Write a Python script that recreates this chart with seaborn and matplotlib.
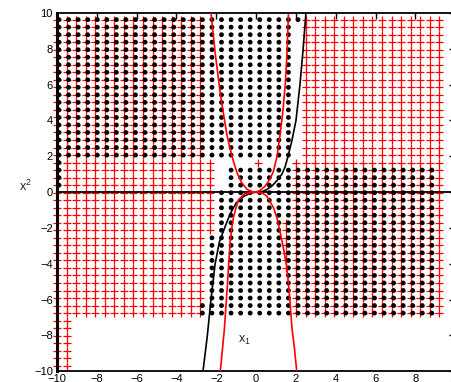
import numpy as np
import pandas as pd
import matplotlib
matplotlib.use("Agg")
import matplotlib.pyplot as plt
import seaborn as sns

# sample grid
dot_cols = [-9.90, -9.42, -8.94, -8.46, -7.98, -7.50, -7.02, -6.54, -6.06, -5.58,
            -5.10, -4.62, -4.14, -3.66, -3.18, -2.70, -2.22, -1.74, -1.26, -0.78,
            -0.30, 0.18, 0.66, 1.14, 1.62, 2.10, 2.58, 3.06, 3.54, 4.02,
            4.50, 4.98, 5.46, 5.94, 6.42, 6.90, 7.38, 7.86, 8.34, 8.82]
cross_cols = [-10.0, -9.52, -9.04, -8.56, -8.08, -7.60, -7.12, -6.64, -6.16, -5.68,
              -5.20, -4.72, -4.24, -3.76, -3.28, -2.80, -2.32, -1.84, -1.36, -0.88,
              -0.40, 0.08, 0.56, 1.04, 1.52, 2.00, 2.48, 2.96, 3.44, 3.92,
              4.40, 4.88, 5.36, 5.84, 6.32, 6.80, 7.28, 7.76, 8.24, 8.72, 9.20]
grid_rows = [9.63, 9.21, 8.79, 8.37, 7.95, 7.53, 7.11, 6.69, 6.27, 5.85,
             5.43, 5.01, 4.59, 4.17, 3.75, 3.33, 2.91, 2.49, 2.07, 1.65,
             1.23, 0.81, 0.39, -0.03, -0.45, -0.87, -1.29, -1.71, -2.13, -2.55,
             -2.97, -3.39, -3.81, -4.23, -4.65, -5.07, -5.49, -5.91, -6.33, -6.75,
             -7.17, -7.59, -8.01, -8.43, -8.85, -9.27, -9.69]

# blocks of grid cells holding a dot / a cross: (first col, last col, first row, last row)
dot_cells = [(0, 0, 0, 22), (1, 24, 0, 18), (25, 25, 0, 0), (18, 39, 20, 39),
             (17, 17, 23, 39), (16, 16, 29, 39), (15, 15, 38, 39)]
cross_cells = [(0, 15, 0, 39), (16, 16, 19, 28), (0, 1, 40, 46), (26, 40, 0, 39),
               (25, 25, 19, 39), (24, 24, 27, 33), (21, 21, 19, 19)]

# curves, points
black_x = [-2.67, -2.45, -2.27, -2.06, -1.85, -1.55, -1.3, -1.0, -0.64, -0.3, 0.0,
           0.3, 0.54, 0.8, 1.05, 1.29, 1.45, 1.6, 1.8, 2.0, 2.2, 2.36, 2.5]
black_y = [-10, -8.0, -6.0, -4.0, -2.8, -1.9, -1.2, -0.6, -0.25, -0.05, 0.0,
           0.03, 0.15, 0.35, 0.65, 1.0, 1.4, 2.0, 2.9, 4.0, 6.0, 8.0, 10]
red_up_x = [-2.27, -2.05, -1.8, -1.6, -1.47, -1.3, -1.14, -0.95, -0.72, -0.45, -0.14,
            0.15, 0.45, 0.7, 0.87, 1.05, 1.2, 1.35, 1.46, 1.55, 1.62]
red_up_y = [10, 7.7, 5.5, 4.1, 3.2, 2.4, 1.72, 1.05, 0.52, 0.15, 0.0,
            0.06, 0.33, 0.75, 1.17, 2.0, 3.2, 4.6, 6.0, 7.8, 9.9]
red_down_x = [-1.8, -1.6, -1.45, -1.38, -1.3, -1.22, -1.14, -0.9, -0.6, -0.13,
              0.3, 0.54, 0.87, 1.05, 1.2, 1.4, 1.54, 1.68, 1.79, 1.92, 2.04]
red_down_y = [-10, -7.7, -5.3, -4.0, -2.7, -2.0, -1.4, -0.45, -0.1, 0.0,
              -0.05, -0.22, -0.87, -1.45, -2.2, -3.3, -4.2, -5.8, -7.5, -8.7, -10]


def cells_to_frame(cols, cells):
    xs, ys = [], []
    for c0, c1, r0, r1 in cells:
        for c in range(c0, c1 + 1):
            for r in range(r0, r1 + 1):
                xs.append(cols[c])
                ys.append(grid_rows[r])
    return pd.DataFrame({"x1": xs, "x2": ys})


dots = cells_to_frame(dot_cols, dot_cells)
crosses = cells_to_frame(cross_cols, cross_cells)

sns.set_style("white")
plt.rcParams["font.family"] = ["Liberation Sans", "DejaVu Sans"]

fig = plt.figure(figsize=(4.52, 3.82), dpi=100)
ax = fig.add_axes([57 / 452, 10.7 / 382, 398.3 / 452, 358.3 / 382])

sns.scatterplot(data=crosses, x="x1", y="x2", marker="+", s=40, color="red",
                linewidth=0.9, ax=ax, zorder=2)
sns.scatterplot(data=dots, x="x1", y="x2", marker="o", s=12, color="black",
                edgecolor="none", ax=ax, zorder=3)
for coll in ax.collections:
    coll.set_clip_on(False)

ax.axhline(0, color="black", lw=1.3, zorder=4)
sns.lineplot(x=black_x, y=black_y, sort=False, estimator=None, color="black", lw=1.2, ax=ax, zorder=5)
sns.lineplot(x=red_up_x, y=red_up_y, sort=False, estimator=None, color="red", lw=1.2, ax=ax, zorder=5)
sns.lineplot(x=red_down_x, y=red_down_y, sort=False, estimator=None, color="red", lw=1.2, ax=ax, zorder=5)

ax.set_xlim(-10, 10)
ax.set_ylim(-10, 10)
ax.set_xticks(range(-10, 11, 2))
ax.set_yticks(range(-10, 11, 2))
ax.tick_params(direction="in", length=4, width=1, top=True, right=True,
               labelsize=8, pad=3, colors="black")
ax.tick_params(axis="x", pad=2)
for side in ax.spines:
    ax.spines[side].set_color("black")
    ax.spines[side].set_linewidth(1.3)
ax.spines["left"].set_linewidth(2.2)
ax.set_xlabel("")
ax.set_ylabel("")

ax.text(-0.6, -8.3, r"$\mathregular{x_1}$", fontsize=9, ha="center", va="center")
fig.text(25 / 452, 1 - 186 / 382, r"$\mathregular{x^2}$", fontsize=9, ha="center", va="center")

fig.savefig("out.png", dpi=100)
